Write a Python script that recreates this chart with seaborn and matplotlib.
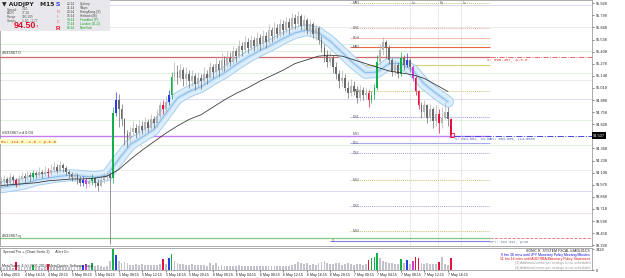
import matplotlib.pyplot as plt
import pandas as pd
import seaborn as sns
from matplotlib.patches import Rectangle

# AUDJPY M15, 4-7 May 2015 (each entry = two M15 bars)
first_open = 93.99
close = [94.02, 94.04, 94.00, 94.06, 94.03, 93.99, 94.04, 94.07, 94.05, 94.08,
         94.06, 94.10, 94.08, 94.11, 94.09, 94.12, 94.10, 94.14, 94.17, 94.13,
         94.19, 94.16, 94.12, 94.09, 94.06, 94.08, 94.04, 94.00, 94.03, 93.99,
         94.02, 94.05, 94.00, 93.97, 94.03, 94.06, 94.08, 94.05, 94.75, 94.89,
         94.79, 94.68, 94.52, 94.47, 94.55, 94.59, 94.53, 94.61, 94.57, 94.65,
         94.59, 94.68, 94.64, 94.72, 94.83, 94.79, 94.87, 94.94, 95.14, 95.19,
         95.13, 95.21, 95.11, 95.17, 95.09, 95.15, 95.06, 95.13, 95.09, 95.17,
         95.13, 95.24, 95.19, 95.28, 95.21, 95.32, 95.26, 95.34, 95.30, 95.41,
         95.36, 95.47, 95.43, 95.51, 95.45, 95.53, 95.47, 95.56, 95.49, 95.58,
         95.51, 95.64, 95.58, 95.66, 95.60, 95.71, 95.64, 95.73, 95.66, 95.77,
         95.71, 95.79, 95.68, 95.75, 95.64, 95.71, 95.60, 95.66, 95.53, 95.45,
         95.36, 95.30, 95.34, 95.24, 95.17, 95.09, 95.13, 95.02, 94.96, 95.04,
         94.98, 94.91, 95.00, 94.94, 94.96, 94.89, 94.94, 95.02, 95.30, 95.43,
         95.51, 95.45, 95.32, 95.19, 95.26, 95.17, 95.34, 95.26, 95.32, 95.24,
         95.13, 94.98, 94.83, 94.76, 94.83, 94.70, 94.79, 94.66, 94.74, 94.64,
         94.70, 94.76, 94.68, 94.51]
high = [94.06, 94.08, 94.06, 94.10, 94.08, 94.05, 94.08, 94.11, 94.10, 94.13,
        94.11, 94.14, 94.13, 94.17, 94.14, 94.18, 94.16, 94.20, 94.22, 94.20,
        94.23, 94.21, 94.18, 94.14, 94.12, 94.12, 94.10, 94.07, 94.07, 94.06,
        94.07, 94.09, 94.06, 94.04, 94.07, 94.10, 94.12, 94.11, 94.81, 94.97,
        94.95, 94.85, 94.70, 94.57, 94.60, 94.66, 94.63, 94.67, 94.66, 94.71,
        94.68, 94.74, 94.72, 94.79, 94.88, 94.89, 94.93, 95.00, 95.19, 95.30,
        95.26, 95.28, 95.24, 95.24, 95.21, 95.21, 95.18, 95.19, 95.17, 95.24,
        95.21, 95.30, 95.28, 95.34, 95.32, 95.39, 95.36, 95.41, 95.40, 95.47,
        95.45, 95.53, 95.51, 95.58, 95.56, 95.59, 95.57, 95.62, 95.60, 95.64,
        95.62, 95.70, 95.67, 95.73, 95.71, 95.76, 95.75, 95.78, 95.77, 95.82,
        95.81, 95.85, 95.81, 95.80, 95.77, 95.76, 95.73, 95.71, 95.68, 95.58,
        95.49, 95.43, 95.41, 95.37, 95.30, 95.21, 95.21, 95.17, 95.09, 95.11,
        95.09, 95.04, 95.05, 95.03, 95.02, 95.00, 94.98, 95.06, 95.37, 95.49,
        95.57, 95.53, 95.48, 95.34, 95.32, 95.30, 95.40, 95.37, 95.39, 95.34,
        95.26, 95.15, 95.00, 94.87, 94.89, 94.85, 94.85, 94.81, 94.83, 94.79,
        94.81, 94.87, 94.81, 94.70]
low = [93.95, 93.98, 93.96, 93.98, 93.99, 93.95, 93.97, 94.02, 94.00, 94.03,
       94.02, 94.04, 94.05, 94.06, 94.05, 94.07, 94.06, 94.08, 94.11, 94.10,
       94.11, 94.12, 94.08, 94.05, 94.02, 94.03, 93.99, 93.96, 93.97, 93.94,
       93.96, 93.98, 93.95, 93.91, 93.95, 94.00, 94.03, 93.34, 94.00, 94.72,
       94.60, 94.61, 94.41, 94.38, 94.42, 94.51, 94.48, 94.50, 94.52, 94.54,
       94.55, 94.57, 94.59, 94.60, 94.70, 94.74, 94.75, 94.83, 94.90, 95.09,
       95.06, 95.09, 95.04, 95.05, 95.02, 95.04, 95.00, 95.02, 95.01, 95.05,
       95.06, 95.11, 95.13, 95.16, 95.15, 95.19, 95.20, 95.24, 95.25, 95.28,
       95.30, 95.34, 95.36, 95.40, 95.39, 95.43, 95.41, 95.44, 95.43, 95.46,
       95.45, 95.49, 95.51, 95.53, 95.55, 95.57, 95.59, 95.61, 95.60, 95.64,
       95.65, 95.67, 95.64, 95.62, 95.60, 95.59, 95.55, 95.53, 95.49, 95.40,
       95.30, 95.24, 95.26, 95.18, 95.11, 95.02, 95.04, 94.98, 94.91, 94.93,
       94.94, 94.86, 94.88, 94.89, 94.90, 94.81, 94.86, 94.90, 95.00, 95.26,
       95.37, 95.34, 95.28, 95.15, 95.16, 95.13, 95.15, 95.21, 95.24, 95.19,
       95.09, 94.94, 94.79, 94.70, 94.72, 94.64, 94.66, 94.59, 94.61, 94.53,
       94.59, 94.68, 94.61, 94.49]
volume = [420, 380, 510, 460, 390, 1300, 520, 470, 430, 380,
          450, 900, 500, 420, 390, 440, 1000, 480, 560, 430,
          610, 520, 470, 540, 590, 480, 620, 700, 900, 1000,
          640, 1100, 580, 820, 660, 540, 600, 1500, 3400, 2400,
          1500, 1200, 1300, 1100, 900, 850, 1000, 800, 950, 870,
          780, 900, 820, 880, 1050, 1800, 960, 2000, 2600, 1400,
          1200, 980, 1050, 900, 860, 920, 780, 830, 760, 800,
          720, 1200, 760, 1100, 700, 740, 680, 720, 650, 700,
          690, 760, 640, 720, 600, 680, 650, 700, 620, 660,
          700, 640, 600, 720, 580, 640, 600, 650, 620, 900,
          1000, 1300, 1100, 950, 1200, 900, 1000, 880, 1150, 1250,
          1400, 1100, 950, 1050, 1150, 1200, 900, 1000, 1100, 950,
          880, 1000, 920, 860, 950, 1700, 2000, 2200, 2800, 1900,
          1500, 1300, 1200, 1100, 1000, 1050, 1800, 1100, 1600, 1000,
          1500, 2100, 1900, 1200, 1000, 1100, 950, 1050, 1000, 1250,
          2200, 1000, 900, 2000]

# PVSRA colouring
climax_up = [11, 31, 38, 58, 126, 127, 128, 136]
climax_dn = [5, 16, 55, 125, 141, 142, 149, 153]
rising_up = [28, 39, 57, 138]
rising_dn = [29, 140]

# moving averages, one value every 4 bars
ma_fast = [93.95, 93.97, 93.99, 94.03, 94.05, 94.07, 94.08, 94.07, 94.06, 94.08,
           94.25, 94.41, 94.49, 94.57, 94.74, 94.91, 94.98, 95.03, 95.11, 95.18,
           95.27, 95.35, 95.42, 95.48, 95.55, 95.61, 95.64, 95.61, 95.52, 95.40,
           95.28, 95.18, 95.19, 95.28, 95.28, 95.21, 95.06, 94.96, 94.87]
ma_slow = [93.97, 93.98, 93.99, 94.00, 94.02, 94.03, 94.04, 94.04, 94.05, 94.07,
           94.14, 94.25, 94.35, 94.44, 94.53, 94.61, 94.68, 94.73, 94.81, 94.89,
           94.96, 95.02, 95.09, 95.15, 95.21, 95.28, 95.32, 95.36, 95.37, 95.36,
           95.32, 95.28, 95.24, 95.20, 95.18, 95.16, 95.12, 95.05, 94.98]

date_labels = ["4 May 2015", "4 May 16:15", "4 May 20:15", "5 May 00:15", "5 May 04:15",
               "5 May 08:15", "5 May 12:15", "5 May 16:15", "5 May 20:15", "6 May 00:15",
               "6 May 04:15", "6 May 08:15", "6 May 12:15", "6 May 16:15", "6 May 20:15",
               "7 May 00:15", "7 May 04:15", "7 May 08:15", "7 May 12:15", "7 May 16:15"]
# the tick under the bid marker is hidden by it, as in the terminal
price_ticks = [95.928, 95.798, 95.668, 95.538, 95.408, 95.278, 95.148, 95.018, 94.888,
               94.758, 94.628, 94.368, 94.238, 94.108, 93.978, 93.848, 93.718,
               93.588, 93.458, 93.328]
bid = 94.507

# full width lines: price, colour, width, end bar
long_lines = [(95.91, "#d8d8f4", 0.7, 201), (95.67, "#e6e6e6", 0.6, 201),
              (95.49, "#d8efd8", 0.6, 166.3), (95.42, "#cfeacf", 0.6, 201),
              (95.35, "#d06a6a", 0.9, 166.3), (95.18, "#dcefdc", 0.6, 201),
              (95.10, "#e8e8e8", 0.6, 201), (94.90, "#dadaf6", 0.7, 201),
              (94.67, "#dcefdc", 0.6, 201), (94.50, "#c37cf2", 1.0, 166.3),
              (94.40, "#d6edd6", 0.6, 201), (94.14, "#e8e8e8", 0.6, 201),
              (93.91, "#dadaf6", 0.7, 201), (93.67, "#f4dede", 0.6, 201),
              (93.41, "#86c886", 0.9, 166.3)]
# pivot levels: name, price, colour, style
pivots = [("MR3", 95.93, "#c8c070", "dot"), ("DR1", 95.66, "#f0a898", "dot"),
          ("PDH", 95.56, "#f8c0b0", "solid"), ("MR2", 95.46, "#e86848", "solid"),
          ("", 95.27, "#d8d070", "solid"), ("MR1", 94.98, "#c8c070", "dot"),
          ("DS1", 94.71, "#9090e8", "dot"), ("MS1", 94.52, "#c37cf2", "none"),
          ("PDL", 94.43, "#a8a8ec", "solid"), ("DS2", 94.32, "#a0a0ec", "dot"),
          ("MS2", 94.03, "#c8c070", "dot"), ("DS3", 93.75, "#a0a0ec", "dot"),
          ("MS3", 93.48, "#c8c070", "dot"), ("YL", 93.37, "#8080e0", "solid")]
sessions = [("Lo", 139.1), ("Ny", 148.6), ("Lo", 156.5)]

sns.set_style("white")
plt.rcParams["font.family"] = ["Liberation Sans", "DejaVu Sans"]

W, H = 625, 278


def box(x0, y0, x1, y1):
    return [x0 / W, 1 - y1 / H, (x1 - x0) / W, (y1 - y0) / H]


fig = plt.figure(figsize=(6.25, 2.78), dpi=100)
ax = fig.add_axes(box(0, 0, 592, 246))
axv = fig.add_axes(box(0, 248, 592, 270), sharex=ax)

df = pd.DataFrame({"close": close, "high": high, "low": low, "volume": volume})
df["open"] = [first_open] + close[:-1]
df["bar"] = range(len(df))
df["bull"] = df["close"] >= df["open"]


def colour(i, bull):
    if i in climax_up:
        return "#12b04a"
    if i in climax_dn:
        return "#e8103a"
    if i in rising_up:
        return "#2a3ce6"
    if i in rising_dn:
        return "#d43ce0"
    return "#b4b4b4" if bull else "#6a6a6a"


df["colour"] = [colour(i, b) for i, b in zip(df["bar"], df["bull"])]
df["vcol"] = [c if c not in ("#b4b4b4", "#6a6a6a") else "#c2c2cc" for c in df["colour"]]

# levels
for p, c, lw, end in long_lines:
    ax.hlines(p, -1, end, color=c, lw=lw, zorder=0.5)
ax.hlines(95.35, 166.3, 201, color="#e05050", lw=0.6, linestyles="-.", zorder=0.6)
ax.hlines(93.41, 166.3, 201, color="#e07070", lw=0.6, linestyles="--", zorder=0.6)
ax.hlines(bid, 154, 201, color="#4848e0", lw=0.7, linestyles="-.", zorder=0.6)
for name, p, c, st in pivots:
    x0 = 111.9 if name == "YL" else 118.7
    if st != "none":
        ax.hlines(p, x0, 166.3, color=c, lw=0.8 if st == "solid" else 0.7,
                  linestyles="-" if st == "solid" else (0, (1, 1)), zorder=0.6)
    if name:
        ax.text(x0 + 0.8, p, name, fontsize=2.4, color="#555566", va="center", zorder=4)
for name, b in sessions:
    ax.vlines(b, 93.32, 95.96, color="#b8b8b8", lw=0.5, linestyles=(0, (1, 1.5)), zorder=0.6)
    ax.text(b + 0.6, 95.935, name, fontsize=2.4, color="#666", va="center")

# moving averages
ma = pd.DataFrame({"bar": range(0, 4 * len(ma_fast), 4), "fast": ma_fast, "slow": ma_slow})
sns.lineplot(data=ma, x="bar", y="fast", ax=ax, color="#a6cdee", lw=8.6, sort=False,
             estimator=None, zorder=1)
sns.lineplot(data=ma, x="bar", y="fast", ax=ax, color="#ddeefb", lw=7.2, sort=False,
             estimator=None, zorder=1.1)
sns.lineplot(data=ma, x="bar", y="fast", ax=ax, color="#c6e0f6", lw=2.6, sort=False,
             estimator=None, zorder=1.15)
sns.lineplot(data=ma, x="bar", y="fast", ax=ax, color="#78b4e8", lw=0.55, sort=False,
             estimator=None, zorder=1.2)

# candles
ax.vlines(df["bar"], df["low"], df["high"], colors=df["colour"], lw=0.5, zorder=2)
body_lo = df[["open", "close"]].min(axis=1)
body_h = (df["close"] - df["open"]).abs().clip(lower=0.006)
ax.bar(df["bar"], body_h, bottom=body_lo, width=0.62, color=df["colour"], linewidth=0, zorder=2.1)
sns.lineplot(data=ma, x="bar", y="slow", ax=ax, color="#2e2e2e", lw=0.55, sort=False,
             estimator=None, zorder=3)
ax.plot(153.3, 94.51, marker="s", ms=2.2, mfc="none", mec="#e01030", mew=0.6, zorder=4)

ax.set_xlim(-0.34, 201.0)
ax.set_ylim(93.32, 95.963)
ax.set_xlabel("")
ax.set_ylabel("")
ax.yaxis.tick_right()
ax.set_yticks(price_ticks)
ax.set_yticklabels([f"{v:.3f}" for v in price_ticks])
ax.tick_params(axis="y", labelsize=2.8, length=1.5, width=0.4, pad=1, colors="#222",
               right=True, left=False)
ax.tick_params(axis="x", bottom=False, labelbottom=False)
ax.text(1.002, bid, f"{bid:.3f}", transform=ax.get_yaxis_transform(), fontsize=2.8,
        color="white", va="center", ha="left",
        bbox=dict(boxstyle="square,pad=0.3", fc="black", ec="none"))

# volume panel
axv.bar(df["bar"], df["volume"], width=0.62, color=df["vcol"], linewidth=0)
axv.set_ylim(0, 3600)
axv.yaxis.tick_right()
axv.set_yticks([0, 3428])
axv.set_yticklabels(["0", "3428"])
axv.tick_params(axis="y", labelsize=2.8, length=1.5, width=0.4, pad=1, colors="#222",
                right=True, left=False)
axv.set_xticks(list(range(0, 153, 8)))
axv.set_xticklabels(date_labels, ha="left")
axv.tick_params(axis="x", labelsize=2.6, length=1.5, width=0.4, pad=0.6, bottom=True,
                colors="#222")

for a in (ax, axv):
    for s in a.spines.values():
        s.set_color("#8a8a8a")
        s.set_linewidth(0.5)

# overlay texts in pixel coordinates
ov = fig.add_axes([0, 0, 1, 1])
ov.set_xlim(0, W)
ov.set_ylim(H, 0)
ov.axis("off")

ov.add_patch(Rectangle((0, 0), 110, 31, fc="#e8e8ec", ec="none"))
ov.text(2, 4.5, "▼ AUDJPY   M15", fontsize=4.3, weight="bold", va="center",
        family=["DejaVu Sans"])
for k, (lab, val) in enumerate([("Spread", "2.10"), ("ADR", "77.18"),
                                ("Range", "105.105"), ("Swaps", "1.20, -1.77")]):
    ov.text(7, 9.5 + 3.8 * k, lab, fontsize=2.3, color="#555", va="center")
    ov.text(22, 9.5 + 3.8 * k, val, fontsize=2.3, color="#555", va="center")
ov.text(14, 26, "94.50", fontsize=6.5, weight="bold", color="#e0102a", va="center")
ov.text(36, 27.5, "7", fontsize=3, color="#e0102a", va="center")
ov.text(56, 5, "S", fontsize=4.5, weight="bold", color="#1a2ee0", va="center")
for k, ch in enumerate(["O", "I", "C"]):
    ov.text(57, 12 + 5 * k, ch, fontsize=2.6, color="#e04060", va="center")
ov.text(56, 28, "R", fontsize=4.5, weight="bold", color="#e0102a", va="center")
zones = [("22:14", "Sydney"), ("21:14", "Tokyo"), ("20:14", "HongKong (X)"),
         ("15:14", "Helsinki (B)"), ("14:14", "Frankfurt (P)"), ("13:14", "London (D+1)"),
         ("08:14", "NewYork")]
for k, (t, z) in enumerate(zones):
    c = "#10a020" if k >= 4 else "#404040"
    ov.text(67, 4 + 4 * k, t, fontsize=2.3, color=c, va="center")
    ov.text(80, 4 + 4 * k, z, fontsize=2.3, color=c, va="center")

ov.text(2, 53.5, "#S33867.0", fontsize=3.0, color="#333", va="center")
ov.text(2, 133, "#S33867.ed 0.04", fontsize=3.0, color="#333", va="center")
ov.text(2, 235.5, "#S33867.q", fontsize=3.0, color="#333", va="center")
ov.text(1, 141.5, "R1: 1x4 R -1.5 = p-6.0", fontsize=3.0, color="#e02020", va="center",
        family=["Liberation Mono"], bbox=dict(boxstyle="square,pad=0.2", fc="#ffffc4", ec="none"))
ov.text(487, 60, "S: 095.457, p-3.5", fontsize=2.9, color="#e03030", va="center",
        family=["Liberation Mono"])
ov.text(455, 139, "S: 094.561, 34.00", fontsize=2.6, color="#5060c0", va="center",
        family=["Liberation Mono"])
ov.text(490, 139, "DY: 094.585, 114.0000", fontsize=2.6, color="#5060c0", va="center",
        family=["Liberation Mono"])
ov.text(490, 242.5, "JPY: 093.492, p=46", fontsize=2.6, color="#6080a0", va="center",
        family=["Liberation Mono"])

ov.text(3, 252, "Spread Pro + (Chart Scale 2)      Alert On", fontsize=2.6, color="#303030",
        va="center")
ov.text(2, 266.5, "MetaTrader 4 (c) 2005-2014, MetaQuotes Software Corp.", fontsize=2.6,
        color="#303030", va="center")
news = [("SONIC R. SYSTEM FXCAL #3ADL01CS", "#202020"),
        ("9 hrs 38 mins until JPY Monetary Policy Meeting Minutes", "#1010e0"),
        ("11 hrs 16 mins until AUD RBA Monetary Policy Statement", "#e01010"),
        ("(3) Additional news per settings is not scheduled", "#9a9a9a"),
        ("(4) Additional news per settings is not scheduled", "#9a9a9a")]
for k, (t, c) in enumerate(news):
    ov.text(590, 250.5 + 4.3 * k, t, fontsize=2.5, color=c, va="center", ha="right")

fig.savefig("out.png", dpi=100)
